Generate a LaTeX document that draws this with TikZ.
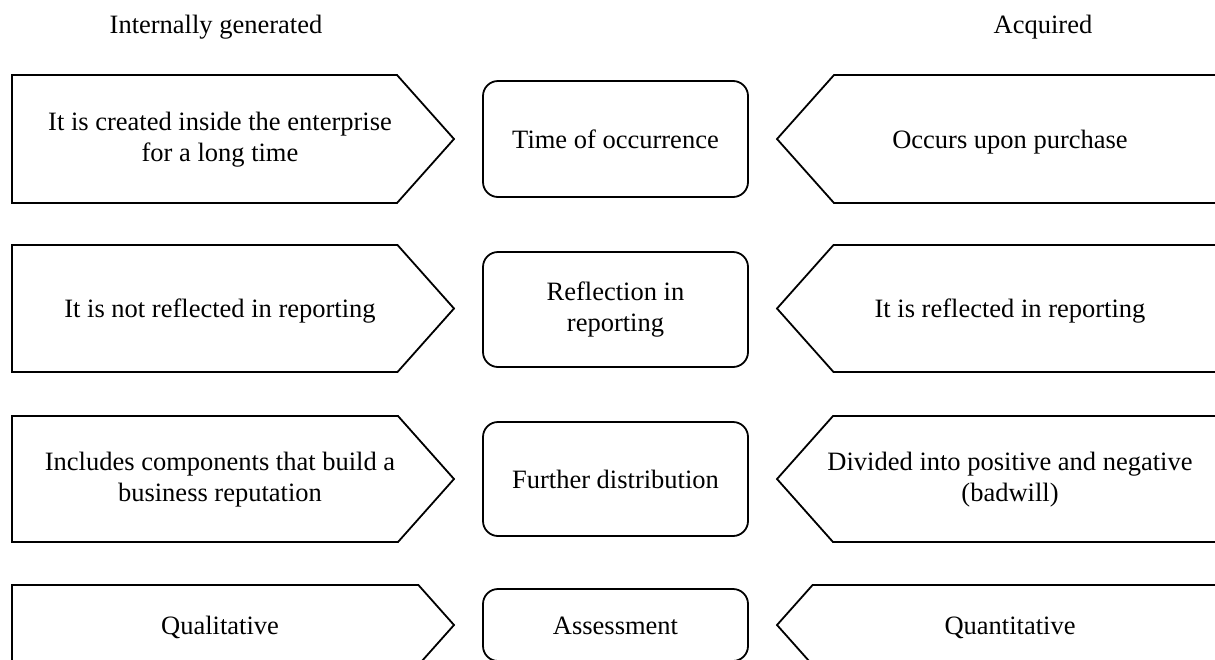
\documentclass[tikz,border=0pt]{standalone}
\usepackage{fontspec}
\setmainfont{Liberation Serif}
\begin{document}
\begin{tikzpicture}[x=1pt,y=-1pt,
  outline/.style={line width=1.8pt, line join=miter, draw=black},
  roundbox/.style={line width=1.8pt, draw=black, rounded corners=15pt},
  lbl/.style={font=\fontsize{26.5}{31}\selectfont, align=center, inner sep=0pt,
    execute at begin node=\strut, execute at end node=\strut},
  body/.style={lbl, yshift=-2.8pt},
]
\useasboundingbox (0,0) rectangle (1215,659);
\clip (0,0) rectangle (1215,659);

% headers
\node[lbl] (hleft) at (216,27) {Internally generated};
\node[lbl] (hright) at (1043,27) {Acquired};

% row 1
\draw[outline] (12,75) -- (397,75) -- (454,139) -- (397,203) -- (12,203) -- cycle;
\draw[roundbox] (483,81) rectangle (748,197);
\draw[outline] (1230,75) -- (834,75) -- (777,139) -- (834,203) -- (1230,203);
\node[body] (l1) at (220,139) {It is created inside the enterprise\\for a long time};
\node[body] (c1) at (615.5,139) {Time of occurrence};
\node[body] (r1) at (1010,139) {Occurs upon purchase};

% row 2
\draw[outline] (12,245) -- (397.5,245) -- (454,308.5) -- (397.5,372) -- (12,372) -- cycle;
\draw[roundbox] (483,252) rectangle (748,367);
\draw[outline] (1230,245) -- (833.5,245) -- (777,308.5) -- (833.5,372) -- (1230,372);
\node[body] (l2) at (220,308.5) {It is not reflected in reporting};
\node[body] (c2) at (615.5,308.5) {Reflection in\\reporting};
\node[body] (r2) at (1010,308.5) {It is reflected in reporting};

% row 3
\draw[outline] (12,416) -- (398,416) -- (454,479) -- (398,542) -- (12,542) -- cycle;
\draw[roundbox] (483,422) rectangle (748,536);
\draw[outline] (1230,416) -- (833,416) -- (777,479) -- (833,542) -- (1230,542);
\node[body] (l3) at (220,479) {Includes components that build a\\business reputation};
\node[body] (c3) at (615.5,479) {Further distribution};
\node[body] (r3) at (1010,479) {Divided into positive and negative\\(badwill)};

% row 4
\draw[outline] (12,585) -- (418.4,585) -- (454,625) -- (418.4,665) -- (12,665) -- cycle;
\draw[roundbox] (483,589) rectangle (748,661);
\draw[outline] (1230,585) -- (812.6,585) -- (777,625) -- (812.6,665) -- (1230,665);
\node[body] (l4) at (220,625) {Qualitative};
\node[body] (c4) at (615.5,625) {Assessment};
\node[body] (r4) at (1010,625) {Quantitative};
\end{tikzpicture}
\end{document}
